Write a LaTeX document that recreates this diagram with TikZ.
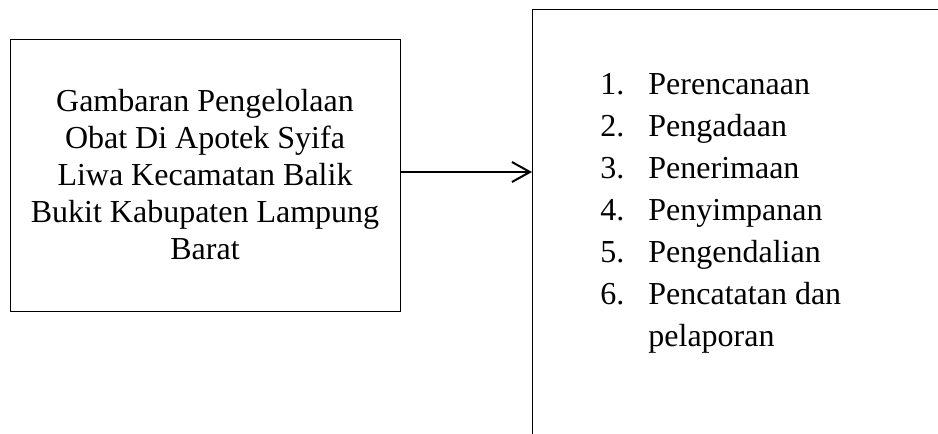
\documentclass[tikz,border=0pt]{standalone}
\usepackage{fontspec}
\setmainfont{Liberation Serif}
\usetikzlibrary{arrows.meta,calc}

\tikzset{
  kotak/.style={draw, line width=0.5pt, inner sep=0pt, align=center,
    font=\fontsize{16}{18.5}\selectfont},
  panah/.style={line width=1pt, -{Straight Barb[length=9pt,width=10pt,line width=1pt]}},
  daftar/.style={align=left, inner sep=0pt, anchor=base west,
    font=\fontsize{16}{21}\selectfont}
}
\newcommand{\nomor}[1]{\makebox[24pt][l]{#1}}

\begin{document}
\begin{tikzpicture}[x=0.5pt,y=-0.5pt]
      % Fix the page size
      \useasboundingbox (0,0) rectangle (938,434);
      \clip (0,0) rectangle (938,434);

      % Draw the left box
      \node[kotak, minimum width=195pt, minimum height=136pt] (gambaran) at (205,175)
      {Gambaran Pengelolaan\\Obat Di Apotek Syifa\\Liwa Kecamatan Balik\\Bukit Kabupaten Lampung\\Barat};

      % Draw the right box (cut off by the page)
      \node[draw, line width=0.5pt, minimum width=300pt, minimum height=300pt,
        anchor=north west] (tahapan) at (532,9) {};

      % Add the list (base is the last line)
      \node[daftar] (isi) at (600,346)
      {\nomor{1.}Perencanaan\\\nomor{2.}Pengadaan\\\nomor{3.}Penerimaan\\
       \nomor{4.}Penyimpanan\\\nomor{5.}Pengendalian\\\nomor{6.}Pencatatan dan\\
       \hspace*{24pt}pelaporan};

      % Connect the boxes
      \draw[panah] ([yshift=1.5pt]gambaran.east) -- ([yshift=1.5pt]gambaran.east -| tahapan.west);
\end{tikzpicture}
\end{document}
